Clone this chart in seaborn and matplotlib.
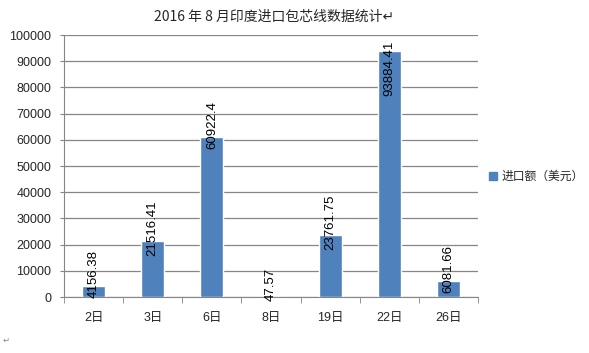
import matplotlib.pyplot as plt
import pandas as pd
import seaborn as sns

# data
days = ["2日", "3日", "6日", "8日", "19日", "22日", "26日"]
values = [4156.38, 21516.41, 60922.4, 47.57, 23761.75, 93884.41, 6081.66]
value_labels = ["4156.38", "21516.41", "60922.4", "47.57", "23761.75", "93884.41", "6081.66"]
y_ticks = [0, 10000, 20000, 30000, 40000, 50000, 60000, 70000, 80000, 90000, 100000]
series_name = "进口额（美元）"
title = "2016 年 8 月印度进口包芯线数据统计↵"

df = pd.DataFrame({"day": days, "value": values})

sns.set_style("white")
plt.rcParams["font.family"] = ["Liberation Sans", "Noto Sans CJK SC", "DejaVu Sans"]

fig = plt.figure(figsize=(5.89, 3.53), dpi=100)
ax = fig.add_axes([0.1087, 0.1586, 0.703, 0.742])

bar_color = "#4F81BD"
sns.barplot(data=df, x="day", y="value", color=bar_color, width=0.39,
            saturation=1, ax=ax, zorder=3)

ax.set_ylim(0, 100000)
ax.set_xlim(-0.5, 6.5)
ax.set_yticks(y_ticks)
ax.set_yticklabels([str(t) for t in y_ticks])
ax.grid(axis="y", color="#868686", linewidth=0.9, zorder=0)
ax.set_axisbelow(True)

ax.set_xlabel("")
ax.set_ylabel("")
for s in ["top", "right"]:
    ax.spines[s].set_visible(False)
ax.spines["left"].set_color("#868686")
ax.spines["bottom"].set_color("#868686")

ax.tick_params(axis="y", labelsize=9, length=3, color="#868686", left=True, pad=6)
ax.tick_params(axis="x", labelsize=9, length=0, pad=11)
ax.set_xticks([x + 0.5 for x in range(-1, 7)], minor=True)
ax.tick_params(axis="x", which="minor", length=4, color="#868686", bottom=True)

# value labels, rotated like the original, kept inside the plot area
labels = []
for i, (v, lab) in enumerate(zip(values, value_labels)):
    t = ax.annotate(lab, (i, v), xytext=(0, 9), textcoords="offset points",
                    rotation=90, ha="center", va="center", fontsize=9.5,
                    color="black", zorder=4)
    labels.append(t)

fig.canvas.draw()
r = fig.canvas.get_renderer()
ax_top = ax.get_window_extent(r).y1
for t in labels:
    bb = t.get_window_extent(r)
    limit = ax_top - 6
    if bb.y1 > limit:
        dx, dy = t.xyann
        t.xyann = (dx, dy - (bb.y1 - limit) * 72 / fig.dpi)

# legend on the right
handle = plt.Rectangle((0, 0), 1, 1, color=bar_color)
fig.legend([handle], [series_name], loc="center left", bbox_to_anchor=(0.812, 0.5),
           frameon=False, handlelength=0.7, handleheight=0.7, handletextpad=0.4,
           prop={"family": ["Noto Sans CJK SC", "DejaVu Sans"], "size": 8.5})

fig.text(0.465, 0.952, title, ha="center", va="center", fontsize=10,
         family=["Noto Sans CJK SC", "DejaVu Sans"])
fig.text(0.005, 0.035, "↵", ha="left", va="center", fontsize=6, color="#888888",
         family=["DejaVu Sans"])

plt.savefig("out.png", dpi=100)
